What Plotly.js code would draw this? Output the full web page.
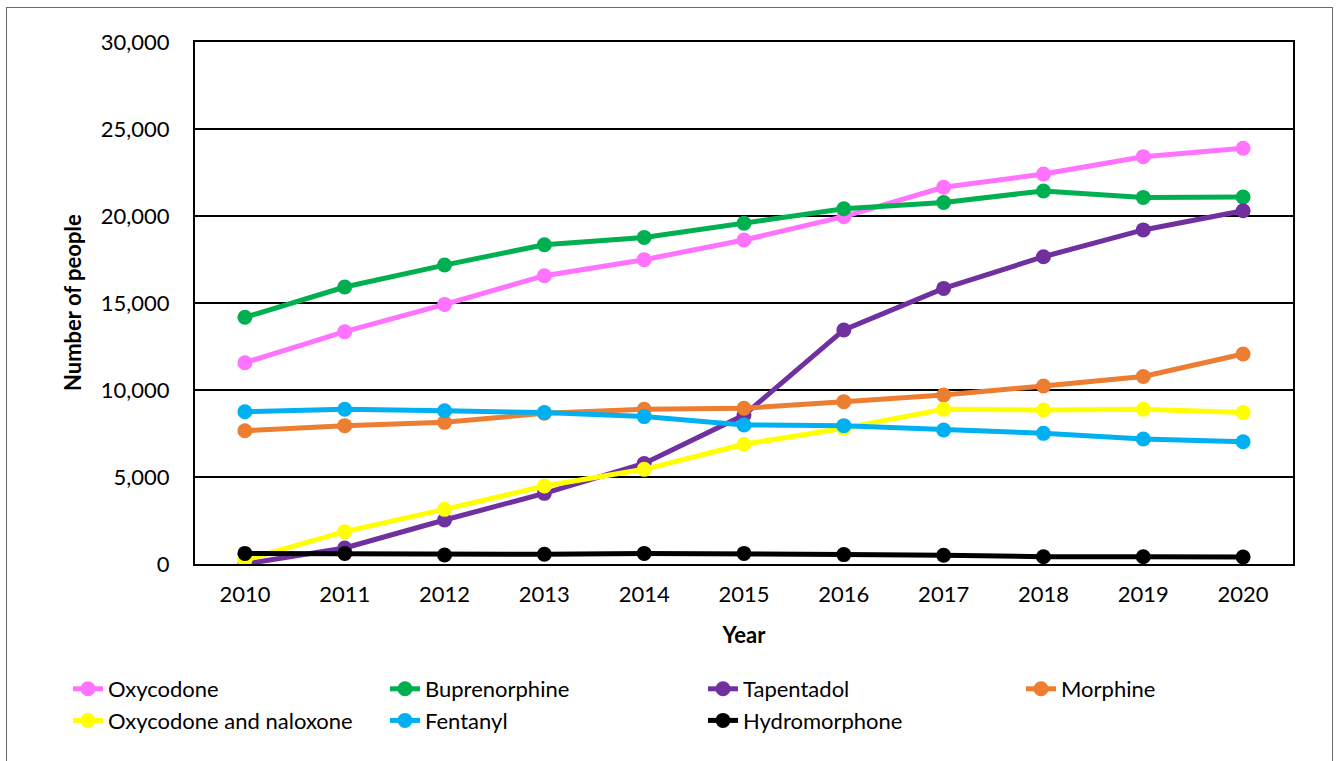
<!DOCTYPE html>
<html>
<head>
<meta charset="utf-8">
<script src="https://cdn.plot.ly/plotly-3.0.1.min.js"></script>
<style>
  html, body { margin: 0; padding: 0; background: #fff; }
  #wrap { position: relative; width: 1336px; height: 761px; overflow: hidden; }
  #frame { position: absolute; left: 6px; top: 7px; width: 1327px; height: 800px; border: 1px solid #6b6b6b; box-sizing: border-box; pointer-events: none; z-index: 5; }
  #chart { width: 1336px; height: 761px; }
</style>
</head>
<body>
<div id="wrap">
  <div id="chart"></div>
  <div id="frame"></div>
</div>
<script>
const years = ['2010','2011','2012','2013','2014','2015','2016','2017','2018','2019','2020'];

const oxycodone      = [11570, 13350, 14920, 16570, 17490, 18620, 19960, 21650, 22410, 23410, 23890];
const buprenorphine  = [14180, 15920, 17180, 18350, 18770, 19580, 20420, 20780, 21440, 21070, 21090];
const tapentadol     = [0, 920, 2530, 4060, 5780, 8560, 13450, 15840, 17660, 19200, 20300];
const morphine       = [7660, 7950, 8140, 8660, 8890, 8950, 9330, 9710, 10230, 10780, 12070];
const oxyNaloxone    = [230, 1860, 3140, 4480, 5440, 6880, 7800, 8890, 8850, 8890, 8700];
const fentanyl       = [8750, 8890, 8810, 8700, 8470, 7990, 7950, 7700, 7510, 7180, 7030];
const hydromorphone  = [610, 600, 520, 560, 610, 610, 540, 500, 420, 420, 400];

const seriesNames  = ['Oxycodone','Buprenorphine','Tapentadol','Morphine','Oxycodone and naloxone','Fentanyl','Hydromorphone'];
const seriesData   = [oxycodone, buprenorphine, tapentadol, morphine, oxyNaloxone, fentanyl, hydromorphone];
const seriesColors = ['#FF73FF','#00B050','#7030A0','#ED7D31','#FFFF00','#00B0F0','#000000'];
// legend column for each series (4 columns, 2 rows as in the reference)
const legendIds    = ['legend','legend2','legend3','legend4','legend','legend2','legend3'];

const yTitle = 'Number of people';
const xTitle = 'Year';

const FONT = 'Lato, "Liberation Sans", sans-serif';

const traces = seriesNames.map((name, i) => ({
  type: 'scatter',
  mode: 'lines+markers',
  name: name,
  legend: legendIds[i],
  x: years,
  y: seriesData[i],
  line: { color: seriesColors[i], width: 5 },
  marker: { color: seriesColors[i], size: 15, symbol: 'circle' },
  hoverinfo: 'x+y+name'
}));

function legendAt(xpx) {
  return {
    orientation: 'v',
    xref: 'container',
    yref: 'container',
    x: xpx / 1336,
    xanchor: 'left',
    y: 1 - 668 / 761,
    yanchor: 'top',
    font: { family: FONT, size: 22, color: '#000' },
    bgcolor: 'rgba(0,0,0,0)',
    traceorder: 'normal',
    tracegroupgap: 0
  };
}

const layout = {
  width: 1336,
  height: 761,
  paper_bgcolor: '#ffffff',
  plot_bgcolor: '#ffffff',
  margin: { l: 195, r: 43, t: 42, b: 197, autoexpand: false },
  font: { family: FONT, size: 22, color: '#000000' },
  showlegend: true,
  xaxis: {
    type: 'category',
    range: [-0.5, 10.5],
    showgrid: false,
    showline: true,
    linecolor: '#000000',
    linewidth: 2,
    mirror: true,
    ticks: '',
    ticklabelstandoff: 10,
    tickangle: 0,
    tickfont: { family: FONT, size: 22, color: '#000' },
    title: { text: '<b>' + xTitle + '</b>', font: { family: FONT, size: 22, color: '#000' }, standoff: 21 },
    zeroline: false,
    fixedrange: true
  },
  yaxis: {
    range: [0, 30000],
    tickvals: [0, 5000, 10000, 15000, 20000, 25000, 30000],
    ticktext: ['0','5,000','10,000','15,000','20,000','25,000','30,000'],
    showgrid: true,
    gridcolor: '#000000',
    gridwidth: 2,
    showline: true,
    linecolor: '#000000',
    linewidth: 2,
    mirror: true,
    ticks: '',
    ticklabelstandoff: 19,
    tickfont: { family: FONT, size: 22, color: '#000' },
    zeroline: false,
    fixedrange: true
  },
  annotations: [{
    text: '<b>' + yTitle + '</b>',
    xref: 'paper', yref: 'paper',
    x: (72 - 195) / 1098, y: 0.5,
    xanchor: 'center', yanchor: 'middle',
    textangle: -90,
    showarrow: false,
    font: { family: FONT, size: 22, color: '#000' }
  }],
  legend:  legendAt(68),
  legend2: legendAt(385),
  legend3: legendAt(703),
  legend4: legendAt(1021)
};

Plotly.newPlot('chart', traces, layout, { displayModeBar: false, staticPlot: true });
</script>
</body>
</html>
